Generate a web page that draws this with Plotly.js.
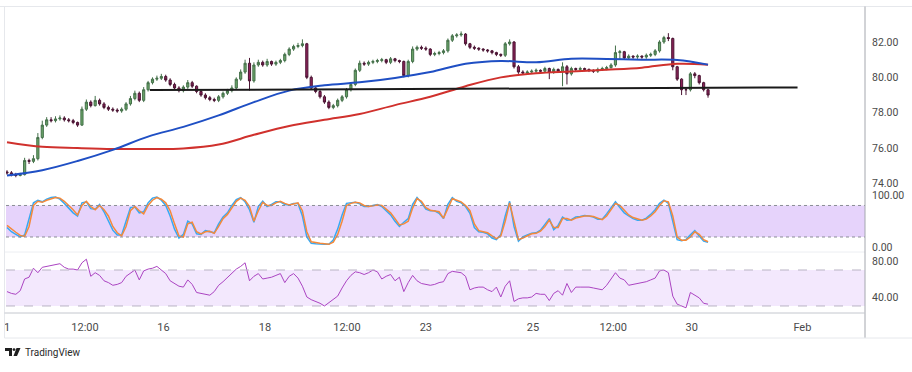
<!DOCTYPE html>
<html><head><meta charset="utf-8">
<script src="https://cdn.plot.ly/plotly-3.0.1.min.js"></script>
<style>html,body{margin:0;padding:0;background:#fff;}#chart{width:912px;height:372px;}</style>
</head><body><div id="chart"></div>
<script>
// ---- data ----
const xTickVals = [0, 17.7, 35.5, 58.5, 77.1, 95.0, 119.3, 137.5, 155.3, 180.4];
const xTickText = ['1', '12:00', '16', '18', '12:00', '23', '25', '12:00', '30', 'Feb'];

const openP = [
74.65,74.6,74.5,74.45,74.5,75.3,75.25,75.4,76.6,77.3,
77.6,77.55,77.65,77.7,77.6,77.55,77.45,77.3,78.2,78.6,
78.4,78.7,78.5,78.3,78.2,78.15,78.1,78.2,78.5,78.8,
79.1,78.7,79.3,79.7,79.9,79.95,80.05,79.85,79.6,79.4,
79.25,79.45,79.7,79.5,79.2,79.0,78.85,78.75,78.7,78.9,
79.1,79.25,79.4,79.9,80.3,80.8,79.8,80.7,80.85,80.7,
80.9,80.75,80.85,80.95,81.3,81.6,81.75,81.8,81.9,80.0,
79.4,79.2,78.9,78.6,78.3,78.4,78.7,78.9,79.3,79.6,
80.4,80.8,80.75,80.85,80.9,80.95,81.0,80.85,81.05,80.95,
80.9,80.1,80.9,81.6,81.7,81.65,81.6,81.3,81.35,81.4,
81.5,82.1,82.35,82.4,82.45,81.9,81.7,81.65,81.6,81.55,
81.5,81.4,81.3,81.25,81.9,82.0,80.6,80.3,80.25,80.3,
80.35,80.4,80.35,80.5,80.3,80.45,80.35,80.6,80.2,80.5,
80.45,80.5,80.45,80.4,80.35,80.45,80.5,80.55,80.7,81.4,
81.45,81.1,81.2,81.15,81.2,81.15,81.25,81.3,81.5,82.0,
82.25,82.2,80.6,79.9,79.3,79.3,80.2,80.1,79.7,79.3];
const highP = [
74.75,74.7,74.6,74.6,75.45,75.4,75.6,76.85,77.55,77.75,
77.75,77.8,77.85,77.8,77.7,77.65,77.5,78.35,78.75,78.7,
78.95,78.8,78.6,78.4,78.3,78.25,78.3,78.6,78.95,79.25,
79.2,79.45,79.8,80.0,80.1,80.2,80.15,79.95,79.7,79.5,
79.55,79.85,79.8,79.55,79.3,79.1,78.95,78.85,79.0,79.2,
79.35,79.55,80.0,80.45,81.0,81.1,80.85,81.0,80.95,81.05,
80.95,80.95,81.05,81.4,81.7,81.85,81.95,82.15,81.95,80.1,
79.5,79.3,79.0,78.7,78.5,78.8,79.0,79.4,79.7,80.5,
80.95,80.9,80.95,81.0,81.05,81.1,81.05,81.15,81.1,81.0,
80.95,81.0,81.75,81.8,81.8,81.75,81.65,81.45,81.5,81.6,
82.2,82.45,82.5,82.6,82.5,81.95,81.8,81.7,81.65,81.6,
81.55,81.45,81.35,82.0,82.15,82.05,80.7,80.4,80.4,80.45,
80.5,80.45,80.6,80.55,80.55,80.5,80.85,80.7,80.6,80.55,
80.6,80.55,80.5,80.45,80.55,80.6,80.65,80.8,81.8,81.55,
81.5,81.3,81.25,81.3,81.25,81.35,81.4,81.6,82.1,82.35,
82.5,82.25,80.65,79.95,79.45,80.3,80.3,80.15,79.75,79.35];
const lowP = [
74.5,74.4,74.35,74.4,74.45,75.1,75.15,75.3,76.5,77.2,
77.45,77.45,77.55,77.5,77.45,77.35,77.2,77.25,78.1,78.3,
78.35,78.4,78.2,78.1,78.05,78.0,78.0,78.1,78.4,78.7,
78.6,78.6,79.2,79.6,79.8,79.85,79.75,79.5,79.3,79.15,
79.15,79.35,79.4,79.1,78.9,78.75,78.65,78.6,78.6,78.8,
79.0,79.15,79.3,79.8,80.2,79.25,79.7,80.6,80.6,80.6,
80.65,80.65,80.75,80.85,81.2,81.5,81.65,81.7,79.9,79.3,
79.1,78.8,78.5,78.2,78.2,78.3,78.6,78.8,79.2,79.5,
80.3,80.65,80.65,80.75,80.8,80.85,80.75,80.75,80.85,80.8,
80.0,80.0,80.8,81.5,81.55,81.5,81.2,81.2,81.25,81.3,
81.4,82.0,82.25,82.3,81.8,81.6,81.55,81.5,81.45,81.4,
81.3,81.2,81.15,81.15,81.8,80.5,80.2,80.15,80.15,80.2,
80.25,80.25,80.25,79.9,80.2,80.25,79.5,79.6,80.1,80.35,
80.35,80.35,80.3,80.25,80.25,80.4,80.4,80.5,80.6,81.0,
81.0,81.0,81.05,81.05,81.05,81.05,81.15,81.2,81.4,81.9,
82.05,80.4,79.8,79.0,79.0,79.2,79.95,79.6,79.2,78.85];
const closeP = [
74.6,74.5,74.45,74.5,75.3,75.25,75.4,76.6,77.3,77.6,
77.55,77.65,77.7,77.6,77.55,77.45,77.3,78.2,78.6,78.4,
78.7,78.5,78.3,78.2,78.15,78.1,78.2,78.5,78.8,79.1,
78.7,79.3,79.7,79.9,79.95,80.05,79.85,79.6,79.4,79.25,
79.45,79.7,79.5,79.2,79.0,78.85,78.75,78.7,78.9,79.1,
79.25,79.4,79.9,80.3,80.8,79.8,80.7,80.85,80.7,80.9,
80.75,80.85,80.95,81.3,81.6,81.75,81.8,81.9,80.0,79.4,
79.2,78.9,78.6,78.3,78.4,78.7,78.9,79.3,79.6,80.4,
80.8,80.75,80.85,80.9,80.95,81.0,80.85,81.05,80.95,80.9,
80.1,80.9,81.6,81.7,81.65,81.6,81.3,81.35,81.4,81.5,
82.1,82.35,82.4,82.45,81.9,81.7,81.65,81.6,81.55,81.5,
81.4,81.3,81.25,81.9,82.0,80.6,80.3,80.25,80.3,80.35,
80.4,80.35,80.5,80.3,80.45,80.35,80.6,80.2,80.5,80.45,
80.5,80.45,80.4,80.35,80.45,80.5,80.55,80.7,81.4,81.45,
81.1,81.2,81.15,81.2,81.15,81.25,81.3,81.5,82.0,82.25,
82.2,80.6,79.9,79.3,79.3,80.2,80.1,79.7,79.3,79.0];

const maIdx = [0,8,16,24,32,40,48,56,64,72,80,88,96,104,112,120,128,136,144,152,159];
const maBlue = [74.45,74.75,75.27,75.9,76.65,77.2,77.85,78.6,79.25,79.55,79.72,79.97,80.3,80.77,80.93,80.85,81.05,81.04,81.0,80.98,80.72];
const maRed  = [76.33,76.07,76.0,75.95,75.95,75.98,76.2,76.75,77.25,77.6,77.93,78.43,78.9,79.5,80.0,80.23,80.33,80.43,80.55,80.77,80.72];

const levelIdx = [32.4, 179.3];
const levelVal = [79.28, 79.43];

const stochK = [
38,30,25,20,24,55,85,90,87,92,
95,96,92,84,75,66,60,85,87,74,
73,82,68,52,33,24,24,50,76,77,
66,68,85,94,96,90,80,60,35,18,
25,50,45,26,25,32,30,28,45,58,
66,80,91,95,87,72,48,78,88,78,
82,87,87,82,81,84,84,60,20,8,
7,6,6,6,14,35,62,84,85,86,
83,78,78,80,82,78,70,62,50,40,
48,55,82,95,85,73,70,70,65,55,
82,95,88,85,78,65,38,30,29,26,
18,15,25,60,88,40,12,20,24,27,
28,33,44,55,34,42,58,52,53,58,
59,61,60,58,54,54,64,76,87,76,
66,60,55,52,52,56,63,72,84,90,
84,50,15,13,15,24,32,22,12,10];
const stochD = [
42,35,29,23,21,40,80,88,86,90,
93,95,94,88,80,72,62,80,88,78,
72,80,72,60,40,28,22,40,70,78,
70,64,80,90,95,92,85,70,45,22,
20,45,48,30,26,30,31,27,40,55,
63,75,88,94,90,78,50,70,86,80,
80,85,88,84,81,83,85,70,30,11,
9,8,7,6,10,25,50,80,84,86,
85,80,78,79,81,80,73,66,55,43,
45,50,75,93,88,76,71,70,68,56,
75,93,90,87,80,70,45,32,30,28,
22,17,22,50,85,50,15,18,22,26,
27,31,40,52,38,38,55,55,52,56,
58,60,60,59,56,53,60,72,84,80,
70,62,57,54,52,54,60,68,80,89,
87,60,20,14,14,20,30,25,15,11];
const rsi = [
46,44,43,47,60,62,72,67,73,74,
75,75.5,77,73,71,71,70,78,82,63,
67,64,58,56,53,54,56,63,67,70,
59,69,71,72,74,70,66,58,55,52,
51,59,54,45,44,43,42,46,53,57,
62,66,71,74,78,58,63,66,60,61,
62,64,66,56,63,66,61,52,40,37,
35,33,30,34,38,41,50,58,64,68,
67,65,67,70,68,60,63,65,58,62,
46,56,64,58,55,54,53,54,56,57,
66,68.5,68,67,63,48,50,51,51,48,
46,51,40,52,58,35,38,39,39,40,
44,43,43,36,44,47,42,55,45,51,
51,51,51,50,49,48,53,60,67,61,
59,53,54,55,56,57,59,61,69,70,
67,41,32,30,28,45,42,39,33,32];

const priceTicks = [74, 76, 78, 80, 82];
const stochTicks = [0, 100];
const rsiTicks = [40, 80];

// ---- geometry helpers (layout decoration only) ----
const W = 912, H = 372, ML = 6, MR = 47, MT = 7, MB = 59;
const PW = W - ML - MR, PH = H - MT - MB;
const px = p => (p - ML) / PW;
const py = p => (H - MB - p) / PH;

const bars = closeP.map((_, i) => i);
const fmt = v => v.toFixed(2);

const traces = [
  {type: 'candlestick', x: bars, open: openP, high: highP, low: lowP, close: closeP,
   xaxis: 'x', yaxis: 'y', hoverinfo: 'skip', whiskerwidth: 0,
   increasing: {line: {color: '#44704a', width: 1}, fillcolor: '#6aa468'},
   decreasing: {line: {color: '#4a1533', width: 1}, fillcolor: '#8c2158'}},
  {type: 'scatter', mode: 'lines', x: maIdx, y: maRed, line: {color: '#d0312d', width: 2, shape: 'spline'}, xaxis: 'x', yaxis: 'y', hoverinfo: 'skip'},
  {type: 'scatter', mode: 'lines', x: maIdx, y: maBlue, line: {color: '#1f4fc4', width: 2, shape: 'spline'}, xaxis: 'x', yaxis: 'y', hoverinfo: 'skip'},
  {type: 'scatter', mode: 'lines', x: levelIdx, y: levelVal, line: {color: '#1a1a1a', width: 2}, xaxis: 'x', yaxis: 'y', hoverinfo: 'skip'},
  {type: 'scatter', mode: 'lines', x: bars, y: stochK, line: {color: '#36a9f4', width: 1.5}, xaxis: 'x', yaxis: 'y2', hoverinfo: 'skip'},
  {type: 'scatter', mode: 'lines', x: bars, y: stochD, line: {color: '#f5893a', width: 1.5}, xaxis: 'x', yaxis: 'y2', hoverinfo: 'skip'},
  {type: 'scatter', mode: 'lines', x: bars, y: rsi, line: {color: '#ab44c2', width: 1}, xaxis: 'x', yaxis: 'y3', hoverinfo: 'skip'}
];

const tickFont = {family: 'Roboto, "Open Sans", sans-serif', size: 11, color: '#4a4a4a'};
const yFont = {family: 'Roboto, "Open Sans", sans-serif', size: 10.5, color: '#4a4a4a'};
const yBase = {side: 'right', anchor: 'x', showgrid: false, zeroline: false, showline: false,
  ticks: '', tickfont: yFont, fixedrange: true, ticklabelstandoff: 6};

const dashC = '#8a8d96';
const shapes = [
  // stoch band
  {type: 'rect', xref: 'paper', yref: 'y2', x0: 0, x1: 1, y0: 20, y1: 80, fillcolor: '#e6d3fb', line: {width: 0}, layer: 'below'},
  {type: 'line', xref: 'paper', yref: 'y2', x0: 0, x1: 1, y0: 80, y1: 80, line: {color: dashC, width: 1, dash: 'dot'}},
  {type: 'line', xref: 'paper', yref: 'y2', x0: 0, x1: 1, y0: 20, y1: 20, line: {color: dashC, width: 1, dash: 'dot'}},
  // rsi band
  {type: 'rect', xref: 'paper', yref: 'y3', x0: 0, x1: 1, y0: 30, y1: 70, fillcolor: '#f3e8fd', line: {width: 0}, layer: 'below'},
  {type: 'line', xref: 'paper', yref: 'y3', x0: 0, x1: 1, y0: 70, y1: 70, line: {color: '#b9b3c4', width: 1, dash: 'dash'}},
  {type: 'line', xref: 'paper', yref: 'y3', x0: 0, x1: 1, y0: 30, y1: 30, line: {color: '#b9b3c4', width: 1, dash: 'dash'}},
  // panel separator
  {type: 'line', xref: 'paper', yref: 'paper', x0: px(4), x1: 1, y0: py(252), y1: py(252), line: {color: '#eceef2', width: 1}},
  // frame
  {type: 'line', xref: 'paper', yref: 'paper', x0: px(0), x1: px(912), y0: py(6.5), y1: py(6.5), line: {color: '#e6e8ec', width: 1}},
  {type: 'line', xref: 'paper', yref: 'paper', x0: px(4.5), x1: px(4.5), y0: py(6.5), y1: py(338), line: {color: '#e6e8ec', width: 1}},
  {type: 'line', xref: 'paper', yref: 'paper', x0: 1, x1: 1, y0: py(6.5), y1: py(338), line: {color: '#a4a7ae', width: 1}},
  {type: 'line', xref: 'paper', yref: 'paper', x0: px(4.5), x1: 1, y0: py(313), y1: py(313), line: {color: '#c4c7ce', width: 1}},
  {type: 'line', xref: 'paper', yref: 'paper', x0: px(4.5), x1: px(912), y0: py(338), y1: py(338), line: {color: '#e6e8ec', width: 1}},
  // TradingView logo
  {type: 'path', xref: 'paper', yref: 'paper', fillcolor: '#1f1f1f', line: {width: 0},
   path: `M ${px(5)} ${py(348)} L ${px(12)} ${py(348)} L ${px(12)} ${py(356)} L ${px(9)} ${py(356)} L ${px(9)} ${py(351)} L ${px(5)} ${py(351)} Z`},
  {type: 'circle', xref: 'paper', yref: 'paper', fillcolor: '#1f1f1f', line: {width: 0},
   x0: px(12.6), x1: px(15.4), y0: py(348.2), y1: py(351)},
  {type: 'path', xref: 'paper', yref: 'paper', fillcolor: '#1f1f1f', line: {width: 0},
   path: `M ${px(16.5)} ${py(348)} L ${px(20.5)} ${py(348)} L ${px(17)} ${py(356)} L ${px(13.5)} ${py(356)} Z`}
];

const layout = {
  width: W, height: H, margin: {l: ML, r: MR, t: MT, b: MB, pad: 0},
  paper_bgcolor: '#ffffff', plot_bgcolor: 'rgba(0,0,0,0)',
  showlegend: false, dragmode: false,
  xaxis: {domain: [0, 1], anchor: 'y3', range: [-0.227, 194.6], showgrid: false, zeroline: false,
          showline: false, ticks: '', tickvals: xTickVals, ticktext: xTickText, tickfont: tickFont,
          ticklabelstandoff: 6, rangeslider: {visible: false}, fixedrange: true},
  yaxis: Object.assign({}, yBase, {domain: [0.402, 1], range: [73.63, 83.98],
          tickvals: priceTicks, ticktext: priceTicks.map(fmt)}),
  yaxis2: Object.assign({}, yBase, {domain: [0.1993, 0.402], range: [-8.6, 109.5],
          tickvals: stochTicks, ticktext: stochTicks.map(fmt)}),
  yaxis3: Object.assign({}, yBase, {domain: [0, 0.1993], range: [22.2, 90],
          tickvals: rsiTicks, ticktext: rsiTicks.map(fmt)}),
  shapes: shapes,
  annotations: [
    {xref: 'paper', yref: 'paper', x: px(22.5), y: py(352.5), xanchor: 'left', yanchor: 'middle', showarrow: false,
     text: 'TradingView', font: {family: 'Roboto, "Open Sans", sans-serif', size: 10, color: '#2a2a2a'}}
  ]
};

Plotly.newPlot('chart', traces, layout, {staticPlot: true, displayModeBar: false});
</script>
</body></html>
